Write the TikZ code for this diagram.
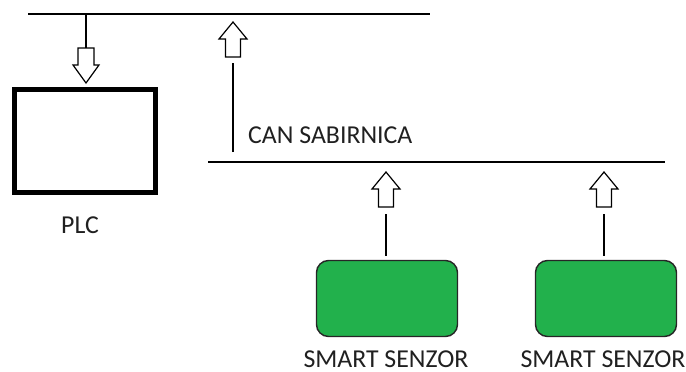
\documentclass[tikz,border=0pt]{standalone}
\usepackage{fontspec}
\setmainfont{Carlito}
\definecolor{paintgreen}{HTML}{22B14C}
\definecolor{txt}{HTML}{202020}
\tikzset{
  x=1pt,y=-1pt,
  bus/.style={line width=1.6pt,black},
  conn/.style={line width=1.5pt,black},
  lbl/.style={font=\fontsize{25.8}{30}\selectfont,text=txt,inner sep=0pt,text height=16pt,text depth=0pt},
  plcbox/.style={draw,line width=5pt,fill=white,minimum width=141pt,minimum height=103pt,inner sep=0pt},
  sensorbox/.style={draw=black!85,line width=1.4pt,fill=paintgreen,rounded corners=12pt,minimum width=141pt,minimum height=76pt,inner sep=0pt},
  uparrow/.pic={
    \draw[line width=1.2pt,fill=white,line join=miter]
      (0,0) -- (14,17) -- (7.5,17) -- (7.5,35) -- (-7.5,35) -- (-7.5,17) -- (-14,17) -- cycle;
    \coordinate (-tip) at (0,0);
    \coordinate (-bottom) at (0,35);
  },
  downarrow/.pic={
    \draw[line width=1.2pt,fill=white,line join=miter]
      (0,0) -- (13,-18) -- (8,-18) -- (8,-35) -- (-8,-35) -- (-8,-18) -- (-13,-18) -- cycle;
    \coordinate (-tip) at (0,0);
    \coordinate (-top) at (0,-35);
  }
}
\begin{document}
\begin{tikzpicture}
\useasboundingbox (0,0) rectangle (686,372);
% buses
\coordinate (b1l) at (28,14);
\coordinate (b1r) at (430,14);
\coordinate (b2l) at (208,162);
\coordinate (b2r) at (665,162);
\draw[bus] (b1l) -- (b1r);
\draw[bus] (b2l) -- (b2r);
% PLC
\node[plcbox] (plc) at (85,141) {};
\node[lbl] (plcl) at (80,225) {PLC};
\pic (pa) at (86,83) {downarrow};
\coordinate (pj) at (86,14);
\draw[conn] (pj) -- (pa-top);
% CAN link
\pic (ca) at (233,22) {uparrow};
\coordinate (cb) at (233,152);
\coordinate (ct) at (233,63);
\draw[conn] (cb) -- (ct);
\node[lbl,anchor=west] (canl) at (248,135) {CAN SABIRNICA};
% sensors
\node[sensorbox] (s1) at (387,298.5) {};
\node[sensorbox] (s2) at (606,298.5) {};
\node[lbl] (s1l) at (386,359) {SMART SENZOR};
\node[lbl] (s2l) at (603,359) {SMART SENZOR};
\pic (sa1) at (386,172) {uparrow};
\pic (sa2) at (604,172) {uparrow};
\coordinate (s1t) at (386,214);
\coordinate (s2t) at (604,214);
\draw[conn] (s1.north -| s1t) ++(0,-4) coordinate (s1e) -- (s1t);
\draw[conn] (s2.north -| s2t) ++(0,-4) coordinate (s2e) -- (s2t);
\end{tikzpicture}
\end{document}
